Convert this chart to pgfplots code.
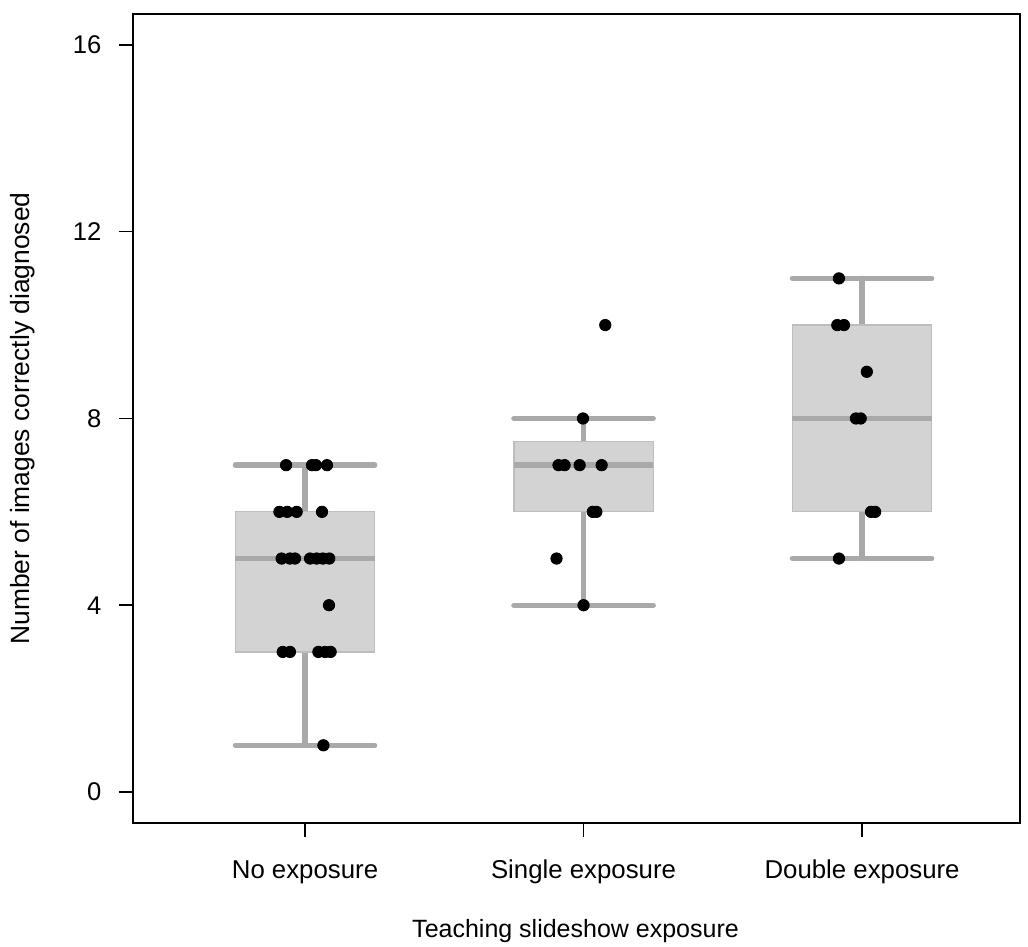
\documentclass[border=0pt]{standalone}
\usepackage{fontspec}
\setmainfont{Liberation Sans}
\usepackage{pgfplots}
\pgfplotsset{compat=1.18}
\usepgfplotslibrary{statistics}
\definecolor{boxfill}{HTML}{D3D3D3}
\definecolor{boxedge}{HTML}{BEBEBE}
\definecolor{wgray}{HTML}{A9A9A9}
\begin{document}
\begin{tikzpicture}
\begin{axis}[
  at={(0,0)}, anchor=south west,
  scale only axis, width=443.5pt, height=404.5pt,
  xmin=0.3824, xmax=3.567, ymin=-0.664, ymax=16.663,
  xtick={1,2,3}, xticklabels={No exposure, Single exposure, Double exposure},
  ytick={0,4,8,12,16},
  xtick pos=left, ytick pos=left,
  tick align=outside, major tick length=7pt,
  tick style={black, line width=0.75pt},
  axis line style={line width=0.75pt},
  font=\fontsize{12.5}{15}\selectfont,
  /pgf/number format/assume math mode=true,
  yticklabel style={anchor=east, inner sep=0pt, xshift=-8.65pt, font=\fontsize{12.8}{15}\selectfont},
  xticklabel style={anchor=base, inner sep=0pt, yshift=-20.65pt, font=\fontsize{12.9}{15}\selectfont},
  xlabel={Teaching slideshow exposure},
  ylabel={Number of images correctly diagnosed},
  xlabel style={at={([yshift=-57.5pt]axis description cs:0.4989,0)}, anchor=base, inner sep=0pt},
  ylabel style={at={([xshift=-51.85pt]axis description cs:0,0.5)}, anchor=base, inner sep=0pt, font=\fontsize{13.2}{15}\selectfont},
  boxplot/draw direction=y,
  boxplot/every box/.style={draw=boxedge, fill=boxfill, line width=0.6pt},
  boxplot/every whisker/.style={draw=wgray, line width=2.7pt, line cap=round},
  boxplot/every median/.style={draw=wgray, line width=2.7pt},
  boxplot/box extend=0.5,
  boxplot/whisker extend=0.5,
]
\addplot[boxplot prepared={draw position=1, lower whisker=1, lower quartile=3, median=5, upper quartile=6, upper whisker=7}] coordinates {};
\addplot[boxplot prepared={draw position=2, lower whisker=4, lower quartile=6, median=7, upper quartile=7.5, upper whisker=8}] coordinates {};
\addplot[boxplot prepared={draw position=3, lower whisker=5, lower quartile=6, median=8, upper quartile=10, upper whisker=11}] coordinates {};
\addplot[only marks, mark=*, mark size=2.85pt, draw=black, fill=black] coordinates {
 (0.932,7) (1.025,7) (1.039,7) (1.079,7)
 (0.908,6) (0.936,6) (0.970,6) (1.061,6)
 (0.916,5) (0.946,5) (0.964,5) (1.018,5) (1.042,5) (1.064,5) (1.087,5)
 (1.086,4)
 (0.920,3) (0.946,3) (1.048,3) (1.072,3) (1.092,3)
 (1.066,1)
 (2.078,10) (1.998,8) (1.910,7) (1.932,7) (1.986,7) (2.065,7)
 (2.033,6) (2.046,6) (1.903,5) (2.000,4)
 (2.917,11) (2.911,10) (2.935,10) (3.017,9) (2.978,8) (2.995,8)
 (3.032,6) (3.047,6) (2.917,5)
};
\end{axis}
\pgfresetboundingbox
\useasboundingbox (-66.5pt,-62pt) rectangle (447.5pt,411.5pt);
\end{tikzpicture}
\end{document}
